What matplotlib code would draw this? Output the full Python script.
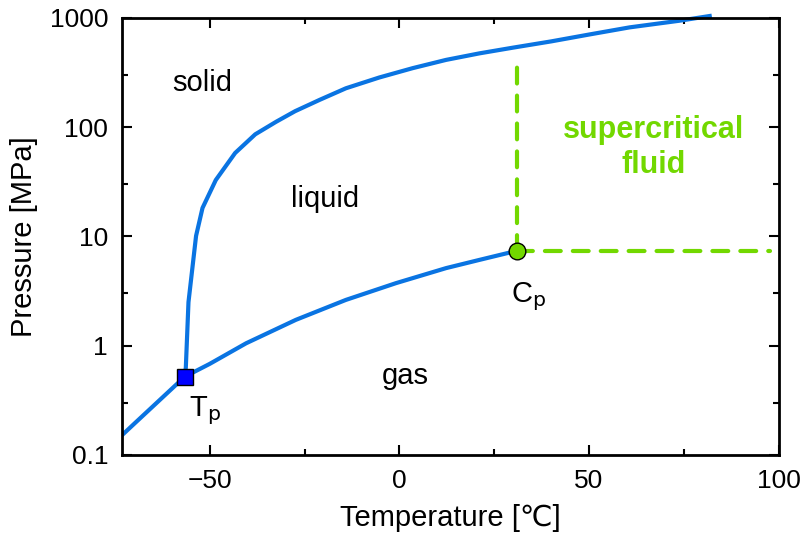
import matplotlib
matplotlib.use("Agg")
import matplotlib.pyplot as plt
from matplotlib.ticker import FixedLocator, NullFormatter

plt.rcParams['font.family'] = ['Liberation Sans', 'DejaVu Sans']

# CO2 phase boundaries, temperature in degC, pressure in MPa
sub_T = [-78.5, -70.0, -56.6]
sub_P = [0.101, 0.191, 0.518]

melt_T = [-56.6, -56.3, -55.6, -53.6, -51.9, -48.4, -43.3, -38.0, -32.5, -27.5,
          -21.0, -14.1, -5.3, 3.5, 12.3, 21.1, 30.0, 40.0, 50.0, 60.7, 73.9, 81.8]
melt_P = [0.518, 0.63, 2.5, 10.1, 18.2, 32.8, 58.0, 86.0, 112, 140,
          178, 227, 285, 347, 413, 474, 535, 610, 705, 820, 944, 1042]

vap_T = [-56.6, -50.0, -40.4, -27.3, -14.1, -0.9, 12.3, 21.1, 31.0]
vap_P = [0.518, 0.68, 1.05, 1.72, 2.62, 3.73, 5.12, 6.09, 7.38]

triple = (-56.6, 0.518)
critical = (31.0, 7.38)
scf_T_max = 97.6
scf_P_max = 414

blue = '#0a74e2'
green = '#72d800'

fig = plt.figure(figsize=(8.02, 5.44), dpi=100)
ax = fig.add_axes([0.152, 0.164, 0.819, 0.803])

ax.plot(sub_T, sub_P, color=blue, lw=3)
ax.plot(melt_T, melt_P, color=blue, lw=3, clip_on=False)
ax.plot(vap_T, vap_P, color=blue, lw=3)

# supercritical boundaries
ax.plot([critical[0], critical[0]], [critical[1], scf_P_max], color=green, lw=3,
        dashes=(3.8, 2.9), dash_capstyle='round')
ax.plot([critical[0], scf_T_max], [critical[1], critical[1]], color=green, lw=3,
        dashes=(3.8, 2.9), dash_capstyle='round')

ax.plot(*triple, marker='s', ms=12, mfc='#0000ff', mec='black', mew=1, zorder=5)
ax.plot(*critical, marker='o', ms=12, mfc=green, mec='black', mew=1, zorder=5)

ax.set_yscale('log')
ax.set_xlim(-73.15, 100)
ax.set_ylim(0.1, 1000)

ax.xaxis.set_major_locator(FixedLocator([-50, 0, 50, 100]))
ax.xaxis.set_minor_locator(FixedLocator([-25, 25, 75]))
ax.yaxis.set_major_locator(FixedLocator([0.1, 1, 10, 100, 1000]))
ax.yaxis.set_minor_locator(FixedLocator([0.3, 3, 30, 300]))
ax.yaxis.set_minor_formatter(NullFormatter())
ax.set_yticklabels(['0.1', '1', '10', '100', '1000'])

ax.tick_params(which='both', direction='in', top=True, right=True, width=1.5,
               labelsize=19)
ax.tick_params(which='major', length=7, pad=10)
ax.tick_params(which='minor', length=4)
for sp in ax.spines.values():
    sp.set_linewidth(2)

ax.set_xlabel('Temperature [℃]', fontsize=21, labelpad=8)
ax.set_ylabel('Pressure [MPa]', fontsize=21, labelpad=8)

ax.text(-52, 255, 'solid', fontsize=21, ha='center', va='center')
ax.text(-19.5, 22, 'liquid', fontsize=21, ha='center', va='center')
ax.text(1.5, 0.53, 'gas', fontsize=21, ha='center', va='center')
ax.text(67, 65, 'supercritical\nfluid', fontsize=22, fontweight='bold',
        color=green, ha='center', va='center', linespacing=1.2)
ax.text(-55.5, 0.255, r'T$_{\rm p}$', fontsize=21, ha='left', va='center')
ax.text(34, 2.8, r'C$_{\rm p}$', fontsize=21, ha='center', va='center')

fig.savefig('out.png', dpi=100)
